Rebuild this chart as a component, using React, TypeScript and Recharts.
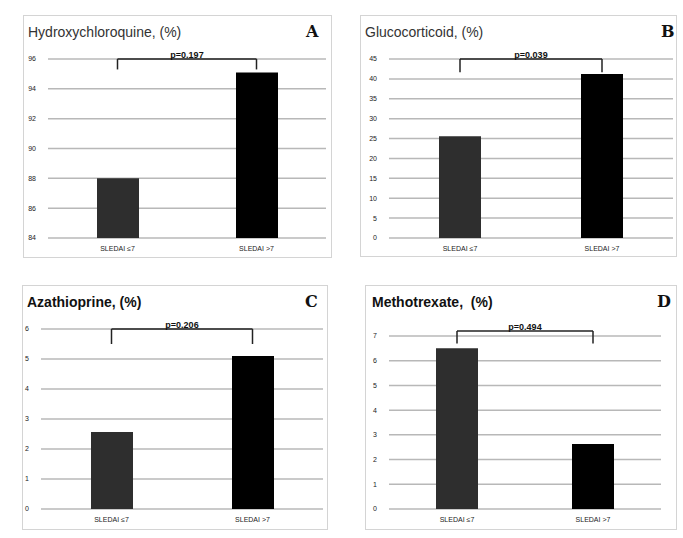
import React from "react";
import { Bar, BarChart, CartesianGrid, Cell, ReferenceLine, XAxis, YAxis } from "recharts";

const categories = ["SLEDAI ≤7", "SLEDAI >7"];
const hcqValues = [88, 95.1];
const gcValues = [25.6, 41.2];
const azaValues = [2.57, 5.1];
const mtxValues = [6.5, 2.63];

const titles = ["Hydroxychloroquine, (%)", "Glucocorticoid, (%)", "Azathioprine, (%)", "Methotrexate,  (%)"];
const letters = ["A", "B", "C", "D"];
const pLabels = ["p=0.197", "p=0.039", "p=0.206", "p=0.494"];
const hcqTicks = [84, 86, 88, 90, 92, 94, 96];
const gcTicks = [0, 5, 10, 15, 20, 25, 30, 35, 40, 45];
const azaTicks = [0, 1, 2, 3, 4, 5, 6];
const mtxTicks = [0, 1, 2, 3, 4, 5, 6, 7];
// bracket: top line level and foot level, in axis units
const bracketTop = [96, 45, 6, 7.2];
const bracketFoot = [95.3, 41.7, 5.5, 6.7];

const barColors = ["#2e2e2e", "#000000"];
const sans = "'Liberation Sans', Arial, sans-serif";

type PanelProps = {
  idx: number;
  values: number[];
  ticks: number[];
  box: { left: number; top: number; width: number; height: number };
  margin: { top: number; right: number; bottom: number; left: number };
  yWidth: number;
  titleX: number;
  letterX: number;
  strongTitle?: boolean;
};

function Panel({ idx, values, ticks, box, margin, yWidth, titleX, letterX, strongTitle }: PanelProps) {
  const data = categories.map((c, i) => ({ name: c, value: values[i] }));
  const top = bracketTop[idx];
  const foot = bracketFoot[idx];
  return (
    <div
      style={{
        position: "absolute",
        left: box.left,
        top: box.top,
        width: box.width,
        height: box.height,
        border: "1px solid #d4d4d4",
        boxSizing: "border-box",
      }}
    >
      <div
        style={{
          position: "absolute",
          left: titleX,
          top: 8,
          fontFamily: sans,
          fontSize: 14,
          color: strongTitle ? "#111" : "#333",
          fontWeight: strongTitle ? 600 : 400,
          whiteSpace: "pre",
        }}
      >
        {titles[idx]}
      </div>
      <div
        style={{
          position: "absolute",
          left: letterX,
          top: 6,
          fontFamily: "'DejaVu Serif', 'Liberation Serif', serif",
          fontSize: 16,
          fontWeight: 700,
          color: "#111",
        }}
      >
        {letters[idx]}
      </div>
      <div style={{ position: "absolute", left: 0, top: 0 }}>
        <BarChart width={box.width} height={box.height} data={data} margin={margin}>
          <CartesianGrid vertical={false} stroke="#b8b8b8" strokeWidth={1.5} />
          <XAxis
            dataKey="name"
            axisLine={false}
            tickLine={false}
            tickSize={0}
            tickMargin={8}
            height={14}
            tick={{ fontSize: 7, fill: "#222", fontFamily: sans }}
          />
          <YAxis
            domain={[ticks[0], ticks[ticks.length - 1]]}
            ticks={ticks}
            interval={0}
            axisLine={false}
            tickLine={false}
            tickSize={0}
            tickMargin={12}
            width={yWidth}
            tick={{ fontSize: 7, fill: "#222", fontFamily: sans }}
          />
          <Bar dataKey="value" barSize={42} isAnimationActive={false}>
            {data.map((d, i) => (
              <Cell key={d.name} fill={barColors[i]} />
            ))}
          </Bar>
          <ReferenceLine
            ifOverflow="visible"
            stroke="#222"
            strokeWidth={1.5}
            segment={[
              { x: categories[0], y: top },
              { x: categories[1], y: top },
            ]}
            label={{
              value: pLabels[idx],
              position: "top",
              fontSize: 9,
              fontWeight: 700,
              fill: "#111",
              fontFamily: sans,
              offset: 1,
            }}
          />
          <ReferenceLine
            ifOverflow="visible"
            stroke="#222"
            strokeWidth={1.5}
            segment={[
              { x: categories[0], y: top },
              { x: categories[0], y: foot },
            ]}
          />
          <ReferenceLine
            ifOverflow="visible"
            stroke="#222"
            strokeWidth={1.5}
            segment={[
              { x: categories[1], y: top },
              { x: categories[1], y: foot },
            ]}
          />
        </BarChart>
      </div>
    </div>
  );
}

export default function App() {
  return (
    <div style={{ position: "absolute", left: 0, top: 0, width: 683, height: 538, background: "#fff" }}>
      <Panel
        idx={0}
        values={hcqValues}
        ticks={hcqTicks}
        box={{ left: 23, top: 15, width: 309, height: 243 }}
        margin={{ top: 43, right: 7, bottom: 7, left: 0 }}
        yWidth={24}
        titleX={4}
        letterX={282}
      />
      <Panel
        idx={1}
        values={gcValues}
        ticks={gcTicks}
        box={{ left: 360, top: 15, width: 317, height: 242 }}
        margin={{ top: 43, right: 5, bottom: 6, left: 0 }}
        yWidth={28}
        titleX={4}
        letterX={300}
      />
      <Panel
        idx={2}
        values={azaValues}
        ticks={azaTicks}
        box={{ left: 22, top: 285, width: 306, height: 245 }}
        margin={{ top: 43, right: 6, bottom: 8, left: 0 }}
        yWidth={18}
        titleX={4}
        letterX={282}
        strongTitle
      />
      <Panel
        idx={3}
        values={mtxValues}
        ticks={mtxTicks}
        box={{ left: 365, top: 285, width: 312, height: 245 }}
        margin={{ top: 50, right: 17, bottom: 8, left: 0 }}
        yWidth={23}
        titleX={6}
        letterX={291}
        strongTitle
      />
    </div>
  );
}
